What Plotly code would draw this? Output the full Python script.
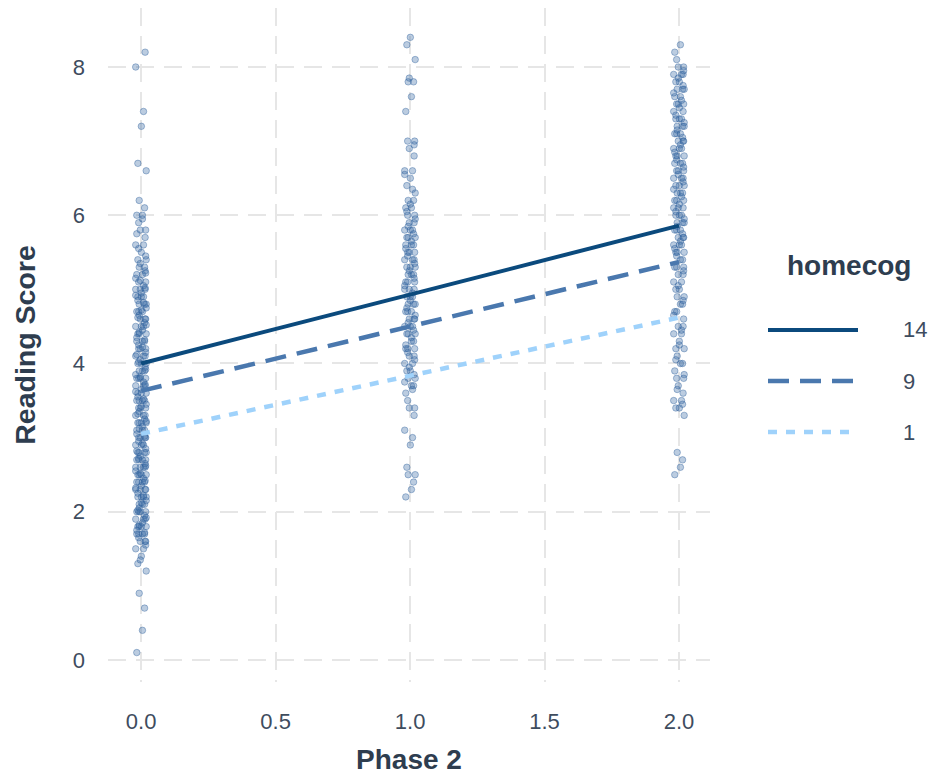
import plotly.graph_objects as go

# ---------------- data ----------------
phase0_scores = [0.1, 0.4, 0.7, 0.9, 1.2, 1.3, 1.4, 1.5, 1.5, 1.6, 1.6, 1.6, 1.7, 1.7, 1.7, 1.7,
                 1.8, 1.8, 1.8, 1.8, 1.9, 1.9, 1.9, 2.0, 2.0, 2.0, 2.0, 2.1, 2.1, 2.1, 2.2, 2.2,
                 2.2, 2.2, 2.3, 2.3, 2.3, 2.3, 2.4, 2.4, 2.4, 2.4, 2.5, 2.5, 2.5, 2.5, 2.6, 2.6,
                 2.6, 2.6, 2.7, 2.7, 2.7, 2.7, 2.8, 2.8, 2.8, 2.8, 2.9, 2.9, 2.9, 3.0, 3.0, 3.0,
                 3.0, 3.1, 3.1, 3.1, 3.2, 3.2, 3.2, 3.2, 3.3, 3.3, 3.3, 3.4, 3.4, 3.4, 3.5, 3.5,
                 3.5, 3.5, 3.6, 3.6, 3.6, 3.7, 3.7, 3.7, 3.8, 3.8, 3.8, 3.8, 3.9, 3.9, 3.9, 4.0,
                 4.0, 4.0, 4.1, 4.1, 4.1, 4.2, 4.2, 4.2, 4.3, 4.3, 4.3, 4.4, 4.4, 4.4, 4.5, 4.5,
                 4.5, 4.6, 4.6, 4.6, 4.7, 4.7, 4.7, 4.8, 4.8, 4.8, 4.9, 4.9, 4.9, 5.0, 5.0, 5.0,
                 5.1, 5.1, 5.2, 5.2, 5.3, 5.3, 5.4, 5.4, 5.5, 5.6, 5.6, 5.7, 5.8, 5.8, 5.9, 6.0,
                 6.0, 6.1, 6.2, 6.6, 6.7, 7.2, 7.4, 8.0, 8.2,
                 1.35, 1.55, 1.65, 1.75, 1.85, 1.95, 2.05, 2.15, 2.25, 2.35, 2.45, 2.55, 2.65,
                 2.75, 2.85, 2.95, 3.05, 3.15, 3.25, 3.35, 3.45, 3.55, 3.65, 3.75, 3.85, 3.95,
                 4.05, 4.15, 4.25, 4.35, 4.45, 4.55, 4.65, 4.75, 4.85, 4.95, 5.05, 5.15, 5.25,
                 5.35, 5.45, 5.55, 5.75, 5.95,
                 1.72, 1.82, 1.92, 2.02, 2.12, 2.22, 2.32, 2.42, 2.52, 2.62, 2.72, 2.82, 2.92,
                 3.02, 3.12, 3.22, 3.32, 3.42, 3.52, 3.62, 3.72, 3.82, 3.92, 4.02, 4.12, 4.22,
                 4.32, 4.42, 4.52, 4.62, 4.72, 4.82, 4.92, 5.02, 5.12, 5.22]

phase1_scores = [2.2, 2.3, 2.4, 2.5, 2.5, 2.6, 2.9, 3.0, 3.1, 3.3, 3.4, 3.4, 3.5, 3.6, 3.7, 3.7,
                 3.8, 3.8, 3.9, 3.9, 4.0, 4.0, 4.1, 4.1, 4.2, 4.2, 4.2, 4.3, 4.3, 4.4, 4.4, 4.4,
                 4.5, 4.5, 4.5, 4.6, 4.6, 4.6, 4.7, 4.7, 4.7, 4.8, 4.8, 4.8, 4.9, 4.9, 4.9, 5.0,
                 5.0, 5.0, 5.1, 5.1, 5.1, 5.2, 5.2, 5.2, 5.3, 5.3, 5.3, 5.4, 5.4, 5.4, 5.5, 5.5,
                 5.5, 5.6, 5.6, 5.6, 5.7, 5.7, 5.7, 5.8, 5.8, 5.8, 5.9, 5.9, 6.0, 6.0, 6.1, 6.1,
                 6.2, 6.2, 6.3, 6.4, 6.5, 6.6, 6.6, 6.8, 6.9, 7.0, 7.0, 7.4, 7.6, 7.8, 7.8, 8.1,
                 8.3, 8.4,
                 3.65, 3.75, 3.85, 3.95, 4.05, 4.15, 4.25, 4.35, 4.45, 4.55, 4.65, 4.75, 4.85,
                 4.95, 5.05, 5.15, 5.25, 5.35, 5.45, 5.55, 5.65, 5.75, 5.85, 5.95, 6.05, 6.15,
                 6.35, 6.55, 6.95, 7.85]

phase2_scores = [2.5, 2.6, 2.7, 2.8, 3.3, 3.4, 3.4, 3.5, 3.5, 3.6, 3.7, 3.8, 3.8, 3.9, 4.0, 4.0,
                 4.1, 4.2, 4.2, 4.3, 4.4, 4.4, 4.5, 4.5, 4.6, 4.7, 4.7, 4.8, 4.8, 4.9, 4.9, 5.0,
                 5.0, 5.1, 5.1, 5.2, 5.2, 5.3, 5.3, 5.3, 5.4, 5.4, 5.5, 5.5, 5.5, 5.6, 5.6, 5.6,
                 5.7, 5.7, 5.7, 5.8, 5.8, 5.8, 5.9, 5.9, 5.9, 6.0, 6.0, 6.0, 6.1, 6.1, 6.1, 6.2,
                 6.2, 6.2, 6.3, 6.3, 6.3, 6.4, 6.4, 6.4, 6.5, 6.5, 6.5, 6.6, 6.6, 6.6, 6.7, 6.7,
                 6.7, 6.8, 6.8, 6.8, 6.9, 6.9, 6.9, 7.0, 7.0, 7.0, 7.1, 7.1, 7.1, 7.2, 7.2, 7.2,
                 7.3, 7.3, 7.3, 7.4, 7.4, 7.5, 7.5, 7.5, 7.6, 7.6, 7.7, 7.7, 7.7, 7.8, 7.8, 7.9,
                 7.9, 7.9, 8.0, 8.0, 8.1, 8.2, 8.3,
                 3.45, 3.65, 3.85, 4.05, 4.25, 4.45, 4.65, 4.85, 5.05, 5.25, 5.45, 5.55, 5.65,
                 5.75, 5.85, 5.95, 6.05, 6.15, 6.25, 6.35, 6.45, 6.55, 6.65, 6.75, 6.85, 6.95,
                 7.05, 7.15, 7.25, 7.35, 7.45, 7.55, 7.65, 7.75, 7.85, 7.95]

phases = [0, 1, 2]
homecog_levels = ["14", "9", "1"]
predicted_scores = {
    "14": [4.00, 4.93, 5.86],
    "9": [3.63, 4.50, 5.37],
    "1": [3.05, 3.83, 4.62],
}

# ---------------- styling ----------------
TEXT = "#3e4c5e"
TITLE = "#2e3d4f"
GRID = "#e6e6e6"
FONT = "Liberation Sans, Arial, sans-serif"
JITTER = [-0.016, 0.005, 0.013, -0.007, 0.019, -0.012, 0.001, 0.009, -0.020, 0.015, -0.003,
          0.017, -0.009]
line_styles = {
    "14": dict(color="#0b4a7d", dash="solid", width=4),
    "9": dict(color="#4a78ae", dash="21px,11px", width=4.5),
    "1": dict(color="#9fd2fb", dash="9px,9px", width=4.5),
}

# page geometry (browser body has an 8px margin)
OFF = 8
FIG_W, FIG_H = 943 - OFF, 780 - OFF
L, R, T, B = 108, 710, 8, 682          # plot area in page pixels
W, H = R - L, B - T

fig = go.Figure()

for ph, scores in zip(phases, [phase0_scores, phase1_scores, phase2_scores]):
    xs = [ph + JITTER[i % len(JITTER)] for i in range(len(scores))]
    fig.add_trace(go.Scatter(
        x=xs, y=scores, mode="markers", showlegend=False, hoverinfo="skip",
        marker=dict(size=6.5, color="rgba(55,105,165,0.34)",
                    line=dict(color="rgba(45,95,155,0.5)", width=0.8)),
    ))

for lvl in homecog_levels:
    st = line_styles[lvl]
    fig.add_trace(go.Scatter(
        x=phases, y=predicted_scores[lvl], mode="lines", name=lvl, showlegend=False,
        line=dict(color=st["color"], dash=st["dash"], width=st["width"]),
    ))

# ---------------- manual legend ----------------
def px(x):
    return (x - L) / W
def py(y):
    return (B - y) / H

fig.add_annotation(x=px(849), y=py(265), xref="paper", yref="paper", text="<b>homecog</b>",
                   showarrow=False, font=dict(size=28, color=TITLE, family=FONT),
                   xanchor="center", yanchor="middle")
for lvl, ypix in zip(homecog_levels, [330, 381, 432]):
    st = line_styles[lvl]
    fig.add_shape(type="line", xref="paper", yref="paper",
                  x0=px(768), x1=px(858), y0=py(ypix), y1=py(ypix),
                  line=dict(color=st["color"], dash=st["dash"], width=st["width"]))
    fig.add_annotation(x=px(901), y=py(ypix), xref="paper", yref="paper", text=lvl,
                       showarrow=False, font=dict(size=22, color=TEXT, family=FONT),
                       xanchor="left", yanchor="middle")

axis_common = dict(
    showgrid=True, gridcolor=GRID, gridwidth=2, griddash="18px,10px",
    zeroline=False, showline=False, ticks="",
    tickfont=dict(size=22, color=TEXT, family=FONT),
)

fig.update_layout(
    width=FIG_W, height=FIG_H,
    margin=dict(l=L - OFF, r=FIG_W - (R - OFF), t=T - OFF, b=FIG_H - (B - OFF)),
    paper_bgcolor="white", plot_bgcolor="white",
    showlegend=False,
    font=dict(family=FONT, color=TEXT),
    xaxis=dict(**axis_common, range=[-0.123, 2.115],
               tickvals=[0, 0.5, 1, 1.5, 2], ticktext=["0.0", "0.5", "1.0", "1.5", "2.0"],
               ticklabelstandoff=24,
               title=dict(text="<b>Phase 2</b>", font=dict(size=28, color=TITLE, family=FONT),
                          standoff=16)),
    yaxis=dict(**axis_common, range=[-0.297, 8.796],
               tickvals=[0, 2, 4, 6, 8], ticktext=["0", "2", "4", "6", "8"],
               ticklabelstandoff=22,
               title=dict(text="<b>Reading Score</b>", font=dict(size=28.5, color=TITLE, family=FONT),
                          standoff=28)),
)

fig.write_html("out.html")
